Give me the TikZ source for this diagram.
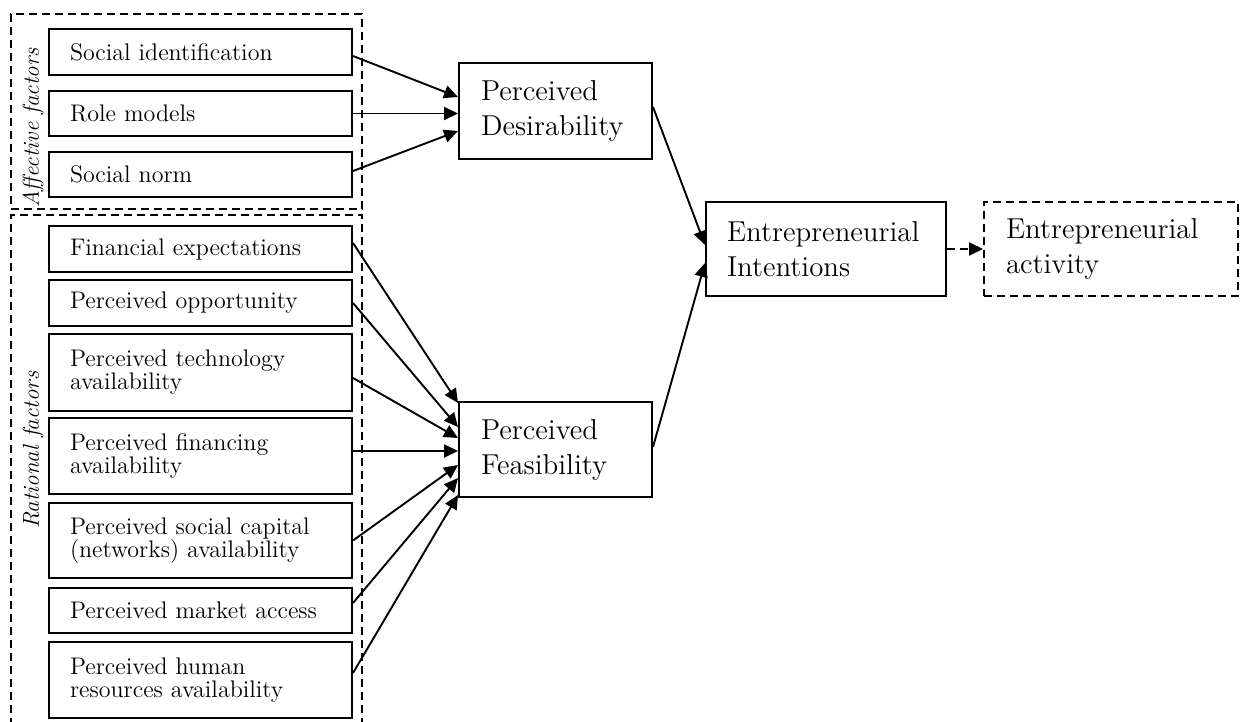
\documentclass[tikz,border=0pt]{standalone}
\usepackage{fontspec}
\usetikzlibrary{arrows.meta,calc}
\begin{document}
\begin{tikzpicture}[x=0.5pt,y=-0.5pt,
  every node/.style={inner sep=0pt},
  factor/.style={draw, line width=1pt, rectangle, minimum width=151.5pt,
    text width=130.5pt, inner xsep=10.5pt, align=left,
    font=\fontsize{12}{11.5}\selectfont},
  stage/.style={draw, line width=1pt, rectangle, inner xsep=11pt, align=left,
    font=\fontsize{14.4}{17.5}\selectfont},
  groupbox/.style={draw, line width=0.9pt, dash pattern=on 4pt off 2.5pt,
    minimum width=175.5pt},
  grouplabel/.style={rotate=90, font=\itshape\fontsize{11.5}{11.5}\selectfont},
  arr/.style={line width=0.95pt, -{Triangle[length=7pt,width=6.5pt]}}
]
\useasboundingbox (0,0) rectangle (1241,722);

% dashed groups
\node[groupbox, minimum height=97.5pt] (aff) at (186.5,111.5) {};
\node[groupbox, minimum height=262pt] (rat) at (186.5,477) {};
\node[grouplabel] (afflbl) at (33,128) {Affective factors};
\node[grouplabel] (ratlbl) at (33,450) {Rational factors};

% affective factors
\node[factor, minimum height=23pt]   (si) at (200.5,52)    {Social identification};
\node[factor, minimum height=22.5pt] (rm) at (200.5,113.5) {Role models};
\node[factor, minimum height=22.5pt] (sn) at (200.5,174.5) {Social norm};

% rational factors
\node[factor, minimum height=23pt]   (fe) at (200.5,249)   {Financial expectations};
\node[factor, minimum height=23pt]   (po) at (200.5,303)   {Perceived opportunity};
\node[factor, minimum height=38.5pt] (pt) at (200.5,372.5) {Perceived technology\\availability};
\node[factor, minimum height=38pt]   (pf) at (200.5,456)   {Perceived financing\\availability};
\node[factor, minimum height=37.5pt] (ps) at (200.5,540.5) {Perceived social capital\\(networks) availability};
\node[factor, minimum height=22.5pt] (pm) at (200.5,610.5) {Perceived market access};
\node[factor, minimum height=38pt]   (ph) at (200.5,680)   {Perceived human\\resources availability};

% perceptions, intentions, activity
\node[stage, text width=74.5pt, minimum height=48pt]   (pd)  at (555.5,111)   {Perceived\\Desirability};
\node[stage, text width=74.5pt, minimum height=47.5pt] (pfe) at (555.5,449.5) {Perceived\\Feasibility};
\node[stage, inner xsep=10.5pt, text width=99pt, minimum height=47pt] (ei) at (826,249) {Entrepreneurial\\Intentions};
\node[stage, dash pattern=on 4pt off 2.5pt, text width=105pt, minimum height=47pt] (ea) at (1111,249) {Entrepreneurial\\activity};

% affective links
\draw[arr] ($(si.east)+(0,4)$) -- ($(pd.west)+(0,-14)$);
\draw[arr] (rm.east) -- (rm.east -| pd.west);
\draw[arr] ($(sn.east)+(0,-3.5)$) -- ($(pd.west)+(0,20)$);

% rational links
\draw[arr] ($(fe.east)+(0,-6)$)   -- ($(pfe.west)+(0,-46.5)$);
\draw[arr] (po.east)              -- ($(pfe.west)+(0,-22.5)$);
\draw[arr] ($(pt.east)+(0,5.5)$)  -- ($(pfe.west)+(0,-11.5)$);
\draw[arr] ($(pf.east)+(0,-5)$)   -- ($(pfe.west)+(0,1.5)$);
\draw[arr] (ps.east)              -- ($(pfe.west)+(0,15.5)$);
\draw[arr] ($(pm.east)+(0,-7.5)$) -- ($(pfe.west)+(0,28.5)$);
\draw[arr] ($(ph.east)+(0,-7)$)   -- ($(pfe.west)+(0,45.5)$);

% to intentions and activity
\draw[arr] ($(pd.east)+(0,-4)$)    -- ($(ei.west)+(0,-4)$);
\draw[arr] ($(pfe.east)+(0,-2.5)$) -- ($(ei.west)+(0,14)$);
\draw[arr, dash pattern=on 4pt off 2.5pt] (ei.east) -- (ea.west);
\end{tikzpicture}
\end{document}
